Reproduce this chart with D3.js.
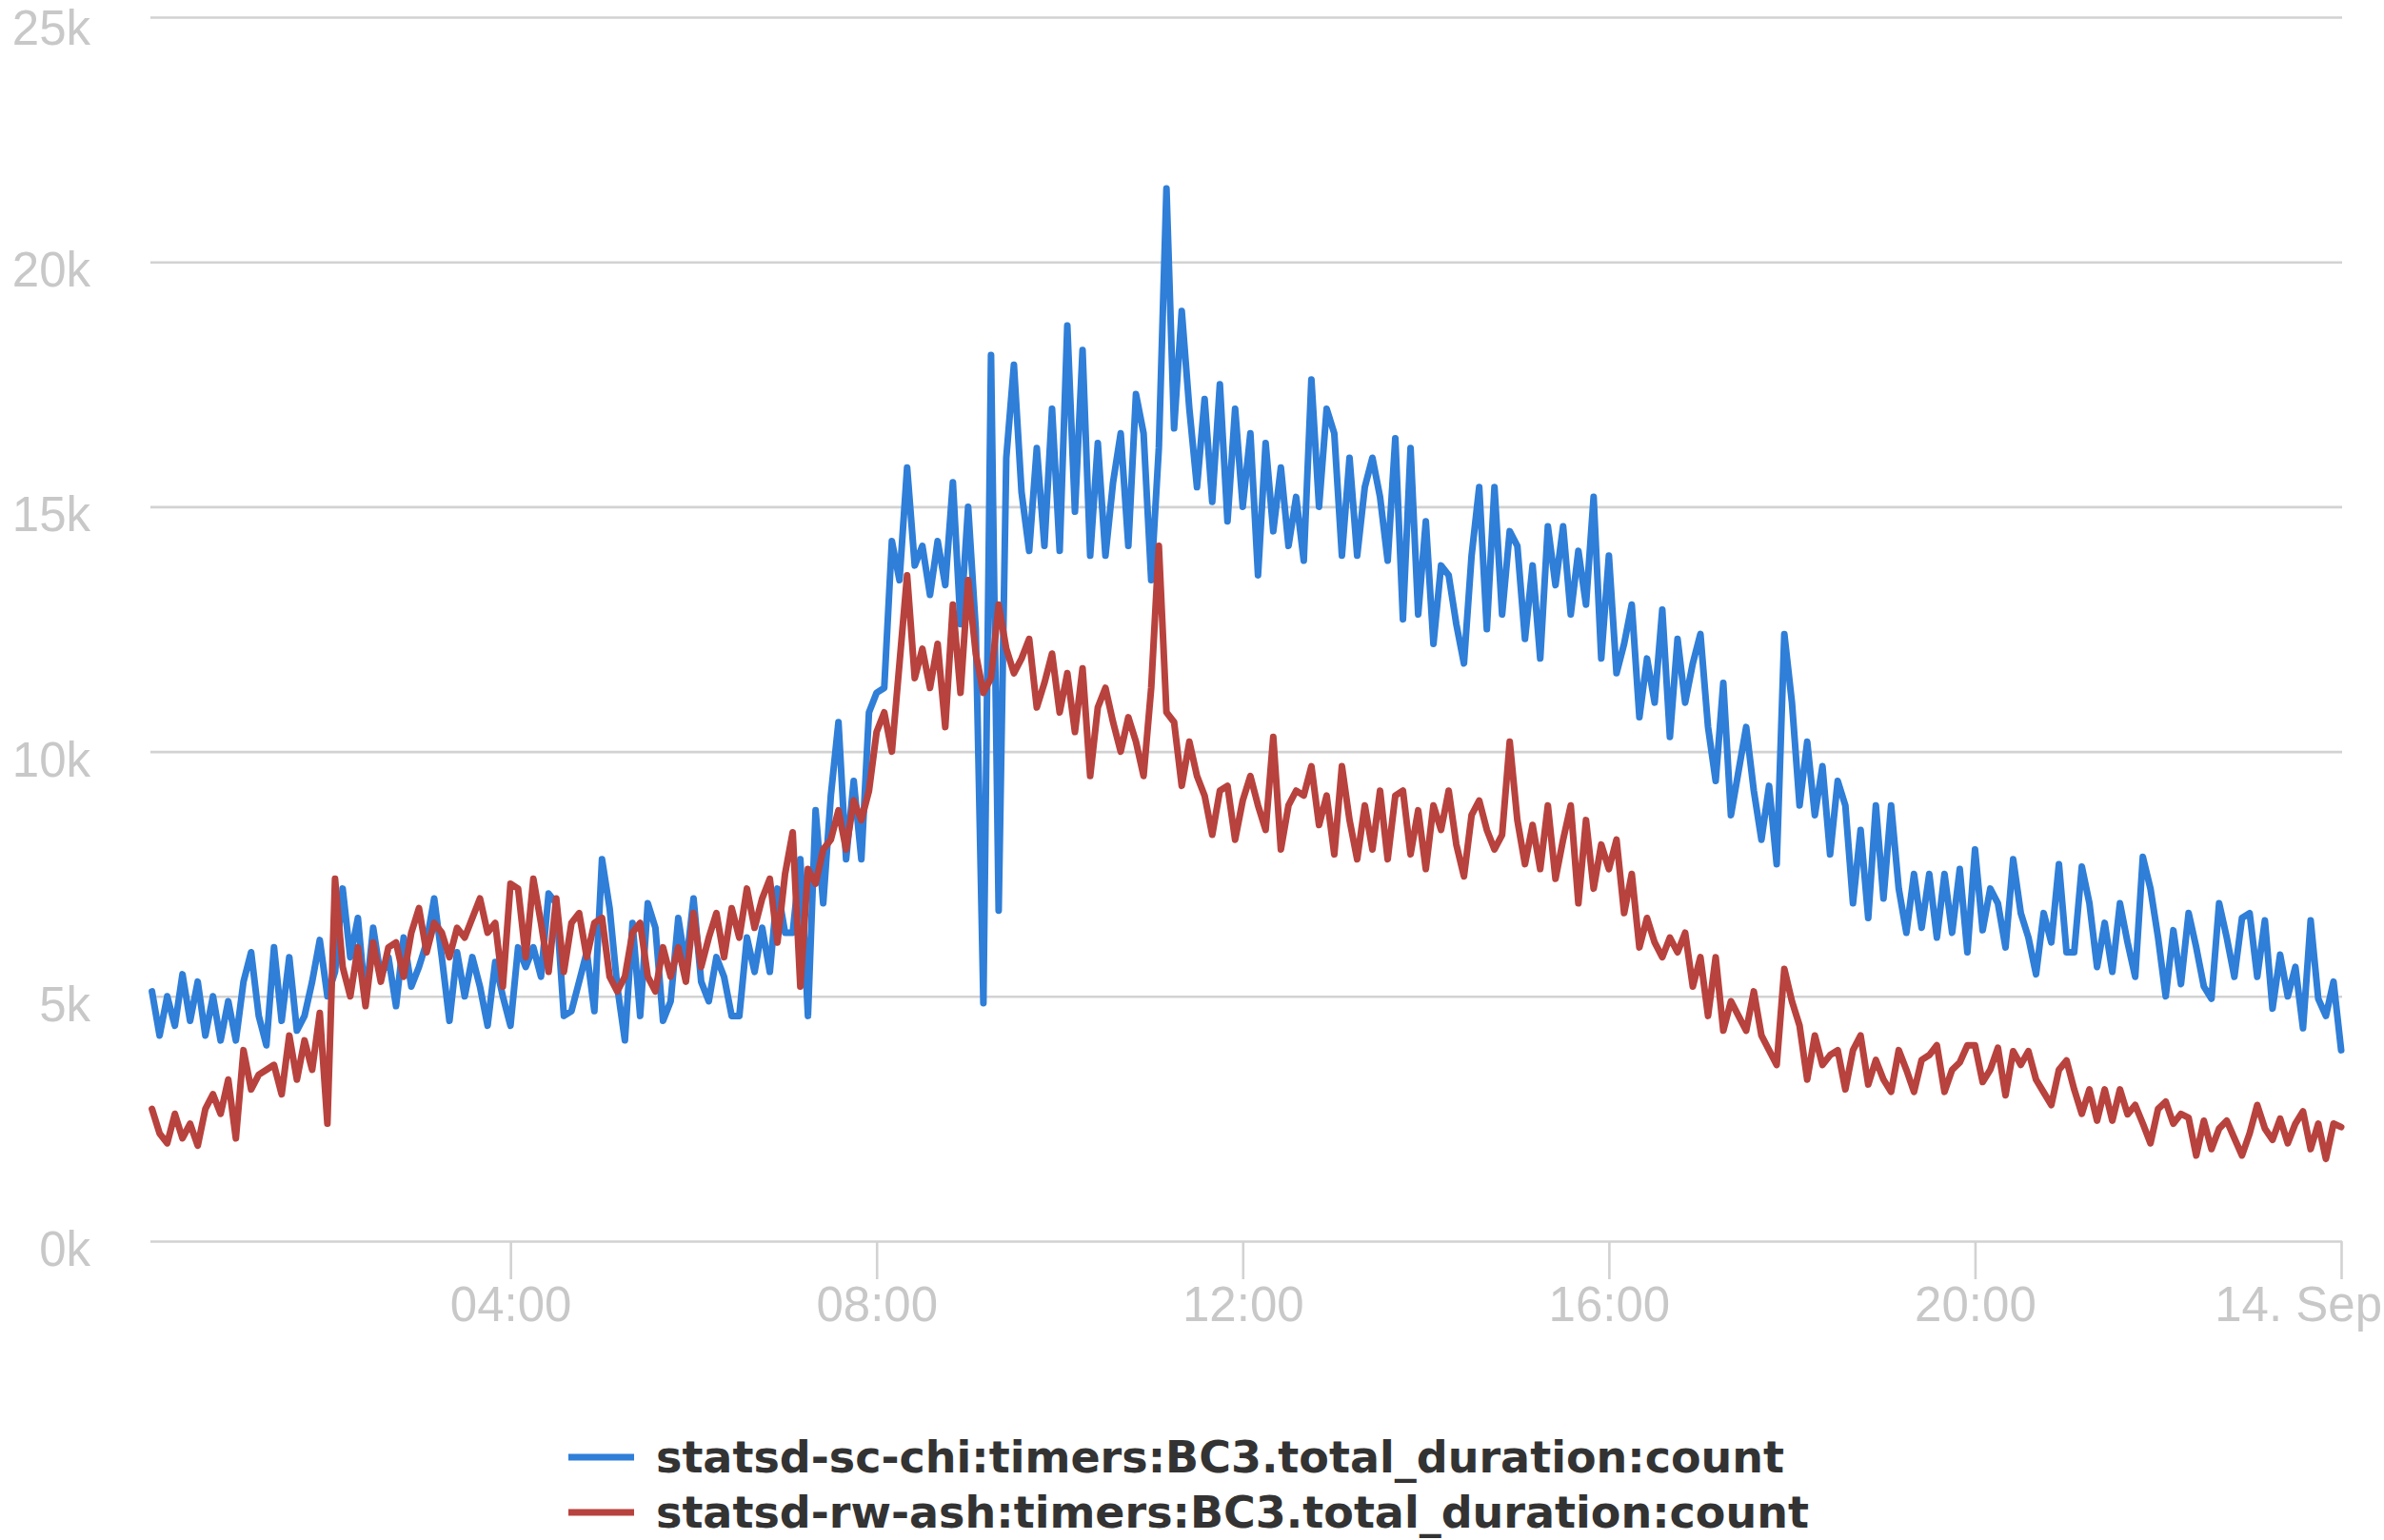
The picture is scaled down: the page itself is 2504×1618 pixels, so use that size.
<!DOCTYPE html>
<html>
<head>
<meta charset="utf-8">
<script src="https://cdn.jsdelivr.net/npm/d3@7"></script>
<style>
  html, body { margin: 0; padding: 0; background: #ffffff; }
  svg { display: block; }
</style>
</head>
<body>
<svg id="chart" width="2504" height="1618"></svg>
<script>
// ---------------- data ----------------
const seriesNames = [
  "statsd-sc-chi:timers:BC3.total_duration:count",
  "statsd-rw-ash:timers:BC3.total_duration:count"
];
const seriesColors = ["#2f7ed8", "#b8423d"];

// 5-minute samples from 13 Sep 00:05 to 14 Sep 00:00, values in thousands
const chiValues = [
  5.1, 4.2, 5.0, 4.4, 5.45, 4.5, 5.3, 4.2, 5.0, 4.1,
  4.9, 4.1, 5.3, 5.9, 4.6, 4.0, 6.0, 4.5, 5.8, 4.3,
  4.6, 5.3, 6.15, 5.0, 5.5, 7.2, 5.8, 6.6, 4.9, 6.4,
  5.4, 5.8, 4.8, 6.2, 5.2, 5.6, 6.1, 7.0, 5.8, 4.5,
  5.9, 5.0, 5.8, 5.2, 4.4, 5.7, 5.0, 4.4,
  6.0, 5.6, 6.0, 5.4, 7.1, 6.9, 4.6, 4.7, 5.3, 5.9,
  4.7, 7.8, 6.8, 5.2, 4.1, 6.5, 4.6, 6.9, 6.4, 4.5,
  4.9, 6.6, 5.6, 7.0, 5.3, 4.9, 5.8, 5.4, 4.6, 4.6,
  6.2, 5.5, 6.4, 5.5, 7.2, 6.3, 6.3, 7.8, 4.6, 8.8,
  6.9, 9.1, 10.6, 7.8, 9.4, 7.8, 10.8, 11.2,
  11.3, 14.3, 13.5, 15.8, 13.8, 14.2, 13.2, 14.3, 13.4, 15.5,
  12.6, 15.0, 12.5, 4.86, 18.1, 6.75, 16.0, 17.9, 15.3, 14.1,
  16.2, 14.2, 17.0, 14.1, 18.7, 14.9, 18.2, 14.0, 16.3, 14.0,
  15.5, 16.5, 14.2, 17.3, 16.5, 13.5, 16.2, 21.5, 16.6, 19.0,
  17.0, 15.4, 17.2, 15.1, 17.5, 14.7, 17.0, 15.0,
  16.5, 13.6, 16.3, 14.5, 15.8, 14.2, 15.2, 13.9, 17.6, 15.0,
  17.0, 16.5, 14.0, 16.0, 14.0, 15.4, 16.0, 15.2, 13.9, 16.4,
  12.7, 16.2, 12.8, 14.7, 12.2, 13.8, 13.6, 12.6, 11.8, 14.0,
  15.4, 12.5, 15.4, 12.8, 14.5, 14.2, 12.3, 13.8, 11.9, 14.6,
  13.4, 14.6, 12.8, 14.1, 13.0, 15.2, 11.9, 14.0,
  11.6, 12.2, 13.0, 10.7, 11.9, 11.0, 12.9, 10.3, 12.3, 11.0,
  11.8, 12.4, 10.5, 9.4, 11.4, 8.7, 9.6, 10.5, 9.2, 8.2,
  9.3, 7.7, 12.4, 11.0, 8.9, 10.2, 8.7, 9.7, 7.9, 9.4,
  8.9, 6.9, 8.4, 6.6, 8.9, 7.0, 8.9, 7.2, 6.3, 7.5,
  6.4, 7.5, 6.2, 7.5, 6.3, 7.6, 5.9,
  8.0, 6.35, 7.2, 6.9, 6.0, 7.8, 6.7, 6.2, 5.45, 6.7,
  6.1, 7.7, 5.9, 5.9, 7.65, 6.9, 5.6, 6.5, 5.5, 6.9,
  6.1, 5.4, 7.85, 7.2, 6.2, 5.0, 6.35, 5.25, 6.7, 6.0,
  5.2, 4.95, 6.9, 6.2, 5.4, 6.6, 6.7, 5.4, 6.55, 4.75,
  5.85, 5.0, 5.6, 4.35, 6.55, 4.95, 4.6, 5.3, 3.9
];

const ashValues = [
  2.7, 2.2, 2.0, 2.6, 2.1, 2.4, 1.95, 2.7, 3.0, 2.6,
  3.3, 2.1, 3.9, 3.1, 3.4, 3.5, 3.6, 3.0, 4.2, 3.3,
  4.1, 3.5, 4.66, 2.4, 7.4, 5.6, 5.0, 6.0, 4.8, 6.1,
  5.3, 6.0, 6.1, 5.4, 6.3, 6.8, 5.9, 6.5, 6.3, 5.8,
  6.4, 6.2, 6.6, 7.0, 6.3, 6.5, 5.2, 7.3,
  7.2, 5.8, 7.4, 6.5, 5.5, 7.0, 5.5, 6.5, 6.7, 5.8,
  6.5, 6.6, 5.4, 5.1, 5.4, 6.3, 6.5, 5.4, 5.1, 6.0,
  5.4, 6.0, 5.3, 6.7, 5.6, 6.2, 6.7, 5.8, 6.8, 6.2,
  7.2, 6.4, 7.0, 7.4, 6.1, 7.5, 8.35, 5.2, 7.6, 7.3,
  8.0, 8.2, 8.8, 8.0, 9.0, 8.6, 9.2, 10.4,
  10.8, 10.0, 11.8, 13.6, 11.5, 12.1, 11.3, 12.2, 10.5, 13.0,
  11.2, 13.5, 12.0, 11.2, 11.5, 13.0, 12.1, 11.6, 11.9, 12.3,
  10.9, 11.4, 12.0, 10.8, 11.6, 10.4, 11.7, 9.5, 10.9, 11.3,
  10.6, 10.0, 10.7, 10.2, 9.5, 11.3, 14.2, 10.8, 10.6, 9.3,
  10.2, 9.5, 9.1, 8.3, 9.2, 9.3, 8.2, 9.0,
  9.5, 8.9, 8.4, 10.3, 8.0, 8.9, 9.2, 9.1, 9.7, 8.5,
  9.1, 7.9, 9.7, 8.6, 7.8, 8.9, 8.0, 9.2, 7.8, 9.1,
  9.2, 7.9, 8.8, 7.6, 8.9, 8.4, 9.2, 8.1, 7.45, 8.7,
  9.0, 8.4, 8.0, 8.3, 10.2, 8.6, 7.7, 8.5, 7.6, 8.9,
  7.4, 8.2, 8.9, 6.9, 8.6, 7.2, 8.1, 7.6,
  8.2, 6.7, 7.5, 6.0, 6.6, 6.1, 5.8, 6.2, 5.9, 6.3,
  5.2, 5.8, 4.6, 5.8, 4.3, 4.9, 4.6, 4.3, 5.1, 4.2,
  3.9, 3.6, 5.56, 4.9, 4.4, 3.3, 4.2, 3.6, 3.8, 3.9,
  3.1, 3.9, 4.2, 3.2, 3.7, 3.3, 3.05, 3.9, 3.5, 3.05,
  3.7, 3.8, 4.0, 3.05, 3.5, 3.65, 4.0,
  4.0, 3.25, 3.5, 3.95, 2.98, 3.88, 3.6, 3.88, 3.3, 3.04,
  2.78, 3.5, 3.69, 3.1, 2.6, 3.1, 2.46, 3.1, 2.46, 3.1,
  2.59, 2.78, 2.4, 2.0, 2.7, 2.85, 2.4, 2.6, 2.52, 1.75,
  2.46, 1.88, 2.3, 2.46, 2.1, 1.75, 2.2, 2.78, 2.3, 2.07,
  2.5, 2.0, 2.4, 2.65, 1.88, 2.4, 1.68, 2.4, 2.33
];

const yTickValues = [0, 5, 10, 15, 20, 25];
const yTickLabels = ["0k", "5k", "10k", "15k", "20k", "25k"];
const xTickHours = [4, 8, 12, 16, 20, 24];
const xTickLabels = ["04:00", "08:00", "12:00", "16:00", "20:00", "14. Sep"];

const dayStart = new Date(2013, 8, 13, 0, 0, 0);
const stepMinutes = 5;

// ---------------- layout ----------------
const W = 2504;
const plotLeft = 158, plotRight = 2460;
const svg = d3.select("#chart");

const x = d3.scaleTime()
  .domain([dayStart, d3.timeHour.offset(dayStart, 24)])
  .range([151.6, 2459]);
const y = d3.scaleLinear().domain([0, 25]).range([1304, 18]);

const timeAt = i => d3.timeMinute.offset(dayStart, stepMinutes * (i + 1));

// y axis + grid
const yAxis = d3.axisLeft(y)
  .tickValues(yTickValues)
  .tickSize(-(plotRight - plotLeft))
  .tickPadding(63)
  .tickFormat((d, i) => yTickLabels[i]);

const gy = svg.append("g")
  .attr("transform", `translate(${plotLeft},0)`)
  .call(yAxis);
gy.select(".domain").remove();
gy.selectAll(".tick line").attr("stroke", "#d2d2d2").attr("stroke-width", 2.6);
gy.selectAll(".tick text")
  .attr("dy", "0.5em")
  .attr("fill", "#c8c8c8")
  .style("font-family", "'Liberation Sans', Arial, sans-serif")
  .style("font-size", "51px");
// keep the top label inside the picture
gy.selectAll(".tick").each(function () {
  const t = d3.select(this).select("text");
  const b = t.node().getBBox();
  const m = this.transform.baseVal.consolidate().matrix;
  const top = m.f + b.y;
  if (top < 1) t.attr("y", 1 - top);
});

// x axis
const xAxis = d3.axisBottom(x)
  .tickValues(xTickHours.map(h => d3.timeHour.offset(dayStart, h)))
  .tickSize(40)
  .tickPadding(8)
  .tickFormat((d, i) => xTickLabels[i]);

const gx = svg.append("g")
  .attr("transform", `translate(0,${y(0)})`)
  .call(xAxis);
gx.select(".domain").remove();
gx.selectAll(".tick line").attr("stroke", "#d2d2d2").attr("stroke-width", 2.6);
gx.selectAll(".tick text")
  .attr("fill", "#c8c8c8")
  .style("font-family", "'Liberation Sans', Arial, sans-serif")
  .style("font-size", "51px");
// keep the last label inside the picture
gx.selectAll(".tick").each(function () {
  const t = d3.select(this).select("text");
  const b = t.node().getBBox();
  const m = this.transform.baseVal.consolidate().matrix;
  const right = m.e + b.x + b.width;
  if (right > W - 2) t.attr("dx", -(right - (W - 2)));
});

// series
const line = d3.line()
  .x((d, i) => x(timeAt(i)))
  .y(d => y(d));

const series = [chiValues, ashValues];
series.forEach((vals, k) => {
  svg.append("path")
    .datum(vals)
    .attr("fill", "none")
    .attr("stroke", seriesColors[k])
    .attr("stroke-width", 7)
    .attr("stroke-linejoin", "round")
    .attr("stroke-linecap", "round")
    .attr("d", line);
});

// legend
const legend = svg.append("g").attr("transform", "translate(597,1531)");
seriesNames.forEach((name, k) => {
  const g = legend.append("g").attr("transform", `translate(0,${k * 58})`);
  g.append("line")
    .attr("x1", 0).attr("x2", 69)
    .attr("y1", 0).attr("y2", 0)
    .attr("stroke", seriesColors[k])
    .attr("stroke-width", 7);
  g.append("text")
    .attr("x", 92).attr("y", 16)
    .attr("fill", "#333333")
    .style("font-family", "'DejaVu Sans', sans-serif")
    .style("font-weight", "bold")
    .style("font-size", "46px")
    .text(name);
});
</script>
</body>
</html>
